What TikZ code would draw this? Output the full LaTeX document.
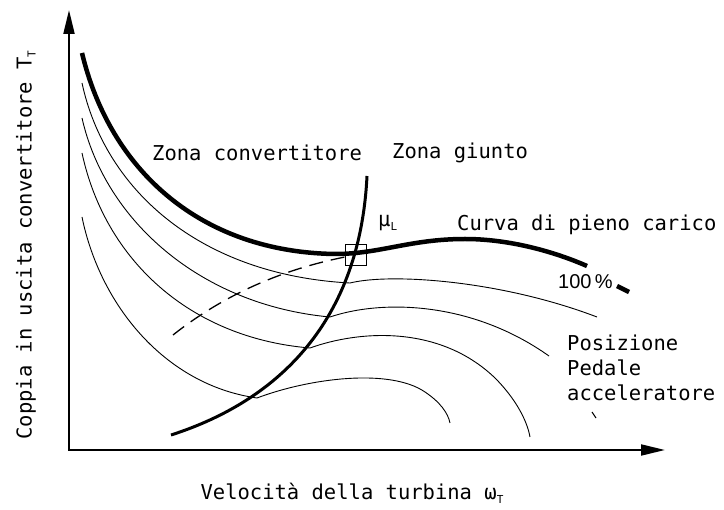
\documentclass[tikz,border=0pt]{standalone}
\usepackage{fontspec}
\setmainfont{DejaVu Sans Mono}
\newfontfamily\pctfont{Liberation Sans}
\usetikzlibrary{arrows.meta}
\newcommand{\lowidx}[1]{\raisebox{-0.35ex}{\fontsize{11}{11}\selectfont #1}}

\begin{document}
\begin{tikzpicture}[x=1pt, y=-1pt]
	\tikzstyle{axisline}=[line width=2pt, {Triangle[length=24pt, width=11pt]}-{Triangle[length=24pt, width=11pt]}]
	\tikzstyle{fullload}=[line width=4.5pt]
	\tikzstyle{mucurve}=[line width=3pt]
	\tikzstyle{pedalcurve}=[line width=0.9pt]
	\tikzstyle{txt}=[inner sep=0pt, font=\fontsize{20.5}{25}\selectfont]

	\useasboundingbox (0,0) rectangle (724,510);

	% axes
	\coordinate (origin) at (69,450);
	\coordinate (ytop) at (69,10);
	\coordinate (xend) at (665,450);
	\draw[axisline] (ytop) -- (origin) -- (xend);

	\node[txt, rotate=90] (ylabel) at (26,245) {Coppia in uscita convertitore T\lowidx{T}};
	\node[txt] (xlabel) at (352,493) {Velocità della turbina ω\lowidx{T}};

	% pedal position curves
	\draw[pedalcurve] (82,83) .. controls (105,190) and (200,275) .. (350,283)
		.. controls (390,273) and (500,280) .. (597,317);
	\draw[pedalcurve] (82,118) .. controls (105,220) and (200,305) .. (330,317)
		.. controls (380,300) and (470,300) .. (549,356);
	\draw[pedalcurve] (82,153) .. controls (105,260) and (190,338) .. (310,348)
		.. controls (360,330) and (440,325) .. (495,378)
		.. controls (515,398) and (527,420) .. (530,437);
	\draw[pedalcurve] (82,217) .. controls (100,305) and (165,385) .. (257,398)
		.. controls (310,378) and (390,368) .. (425,392)
		.. controls (440,402) and (448,413) .. (450,423);
	\draw[line width=1.3pt, dash pattern=on 14pt off 8pt] (173,335) .. controls (230,290) and (290,268) .. (345,257);

	% full load and lock-up curves
	\draw[fullload] (82,53) .. controls (110,170) and (200,252) .. (335,254)
		.. controls (380,254) and (410,239) .. (465,239)
		.. controls (510,239) and (555,252) .. (587,266);
	\draw[fullload] (617,286) -- (629,292);
	\draw[mucurve] (171,435) .. controls (280,400) and (360,320) .. (367,176);
	\node[draw, line width=1.5pt, minimum size=21pt, inner sep=0pt] (lockpt) at (356,255) {};

	\node[txt, anchor=west] (zconv) at (152,153) {Zona convertitore};
	\node[txt, anchor=west] (zgiunto) at (392,153) {Zona giunto};
	\node[txt, anchor=west] (mul) at (378,223) {μ\lowidx{L}};
	\node[txt, anchor=west] (fullname) at (457,225) {Curva di pieno carico};
	\node[anchor=west, inner sep=0pt, font=\pctfont\fontsize{20}{20}\selectfont] (pct) at (558,282) {100\,\%};
	\node[txt, anchor=north west, align=left] (pedal) at (567,335) {Posizione\\Pedale\\acceleratore};
	\draw[line width=1pt] (592,412) -- (596,418);
\end{tikzpicture}
\end{document}
